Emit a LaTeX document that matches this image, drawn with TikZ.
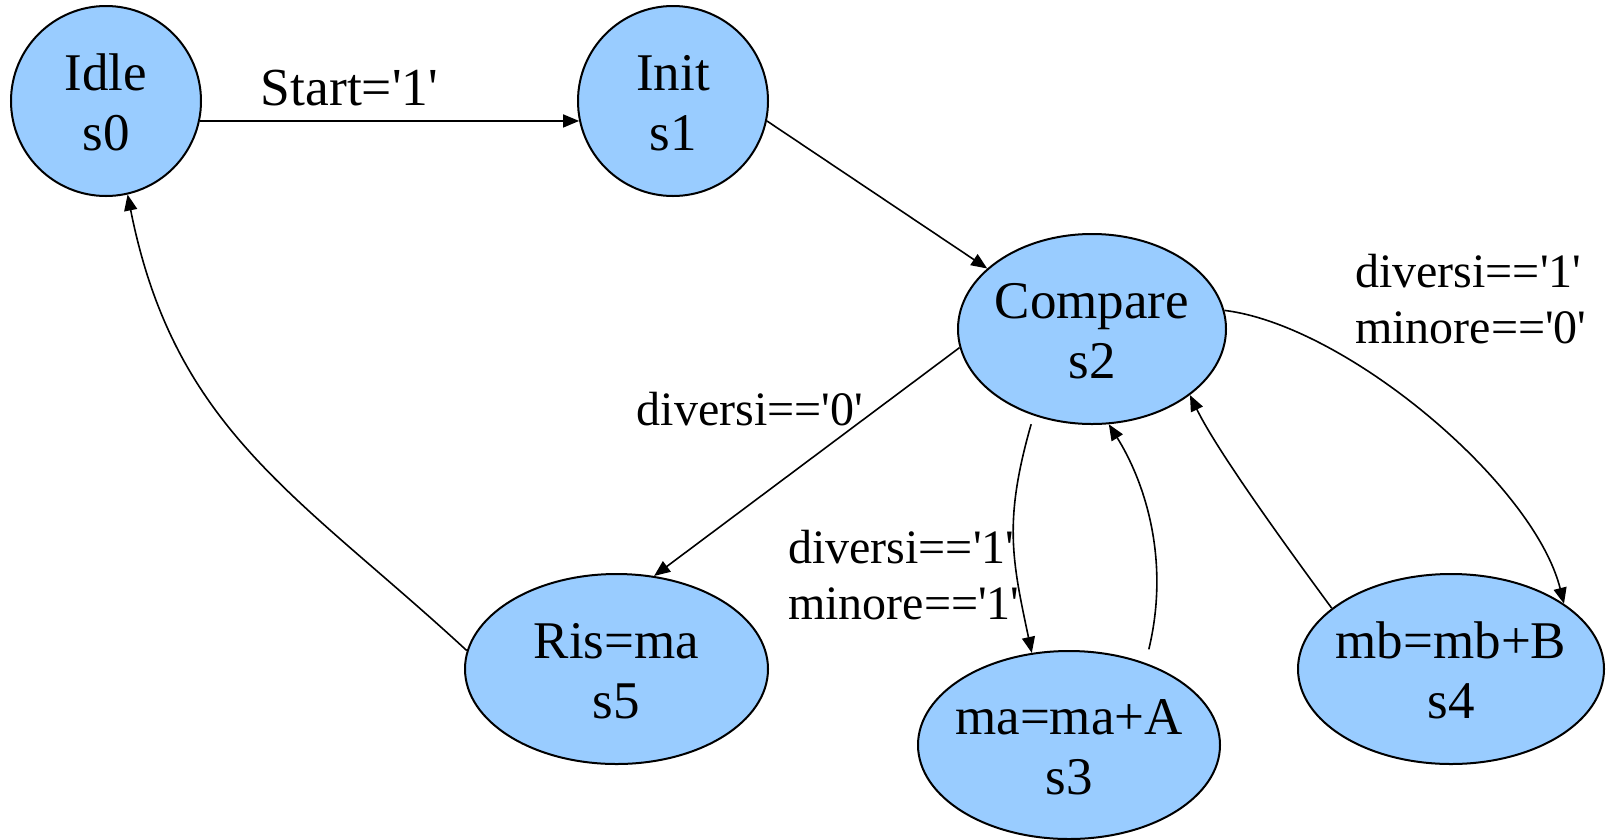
\documentclass[tikz,border=0pt]{standalone}
\usepackage{fontspec}
\setmainfont{Liberation Serif}[Ligatures=TeXOff]
\usetikzlibrary{shapes.geometric,arrows.meta}
\definecolor{statefill}{HTML}{99CCFF}
\newcommand{\statetext}[2]{\raisebox{-7.5pt}[\height][\depth]{\makebox[0pt]{\begin{tabular}{@{}c@{}}#1\\#2\end{tabular}}}}
\newcommand{\twolines}[2]{\begin{tabular}[t]{@{}l@{}}#1\\#2\end{tabular}}
\tikzset{
  state/.style={ellipse, draw=black, line width=2pt, fill=statefill, inner sep=0pt, font=\fontsize{53}{60}\selectfont},
  conn/.style={draw=black, line width=1.6pt, -{Triangle[length=16pt,width=13pt]}},
  lbl/.style={font=\fontsize{48}{56}\selectfont, inner sep=0pt, anchor=base west},
  biglbl/.style={lbl, font=\fontsize{53.5}{60}\selectfont}
}
\begin{document}
\begin{tikzpicture}[x=1pt,y=-1pt]
\useasboundingbox (0,0) rectangle (1606,839);
\node[state, minimum width=190pt, minimum height=190pt] (s0) at (106,101) {\statetext{Idle}{s0}};
\node[state, minimum width=190pt, minimum height=190pt] (s1) at (673,101) {\statetext{Init}{s1}};
\node[state, minimum width=268pt, minimum height=190pt] (s2) at (1092,329) {\statetext{Compare}{s2}};
\node[state, minimum width=303pt, minimum height=190pt] (s5) at (616.5,669) {\statetext{Ris=ma}{s5}};
\node[state, minimum width=302pt, minimum height=188pt] (s3) at (1069,745) {\statetext{ma=ma+A}{s3}};
\node[state, minimum width=306pt, minimum height=190pt] (s4) at (1451,669) {\statetext{mb=mb+B}{s4}};

\draw[conn] (s0.-12) -- (s1.192);
\draw[conn] (s1.-12.5) -- (s2.150);
\draw[conn] (s2.188) -- (s5.68);
\draw[conn, shorten <=9pt] (s2.236.5) .. controls +(-30,105) and +(-20,-94) .. (s3.112);
\draw[conn, shorten <=14pt] (s3.47) .. controls +(25,-104) and +(35.6,57) .. (s2.280);
\draw[conn] (s4.153) .. controls +(-65.2,-88.6) and +(24,49.4) .. (s2.326);
\draw[conn] (s2.8) .. controls +(122,15) and +(-30,-120) .. (s4.30);
\draw[conn] (s5.173) .. controls +(-169,-156) and +(46.8,235.4) .. (s0.283);

\node[biglbl] (l01) at (260.7,105) {Start='1'};
\node[lbl] (l24) at (1355,287) {\twolines{diversi=='1'}{minore=='0'}};
\node[lbl] (l25) at (636.7,425) {diversi=='0'};
\node[lbl] (l23) at (788,563) {\twolines{diversi=='1'}{minore=='1'}};
\end{tikzpicture}
\end{document}
